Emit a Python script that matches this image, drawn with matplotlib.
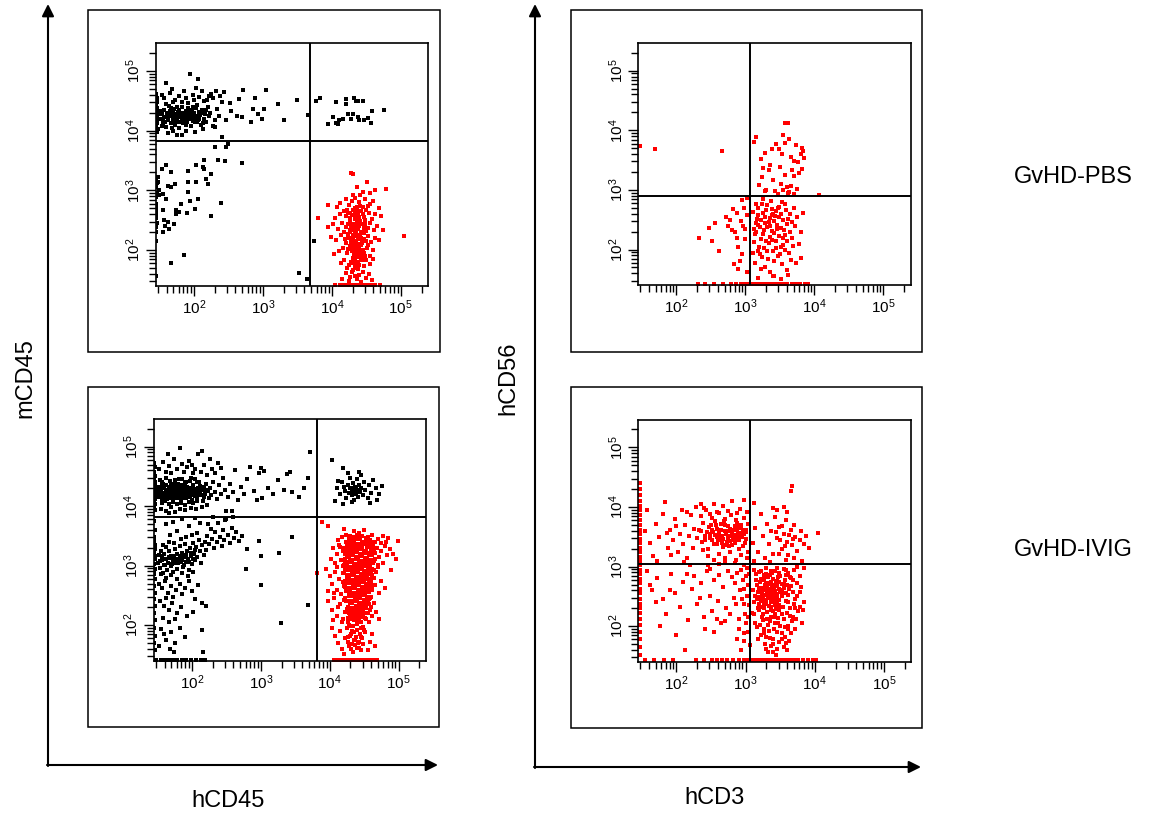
import numpy as np
import matplotlib
matplotlib.use('Agg')
import matplotlib.pyplot as plt
from matplotlib.patches import Rectangle
from matplotlib.ticker import FixedLocator, LogLocator, NullFormatter, LogFormatterMathtext

plt.rcParams['font.family'] = ['Liberation Sans', 'DejaVu Sans']
plt.rcParams['mathtext.fontset'] = 'custom'
plt.rcParams['mathtext.rm'] = 'Liberation Sans'
plt.rcParams['mathtext.it'] = 'Liberation Sans:italic'
plt.rcParams['mathtext.bf'] = 'Liberation Sans:bold'

# events, written as "log10(x) log10(y)" pairs

# GvHD-PBS, hCD45 vs mCD45
pbs45_black_hi = """
1.45 4.05 1.45 4.18 1.46 4.31 1.45 4.44 1.46 4.12 1.45 4.25 1.47 4.38 1.46 4.55 1.45 4.62 1.46 3.98
1.47 4.21 1.45 4.09 1.48 4.28 1.46 4.47 1.47 4.15 1.45 4.34 1.48 4.02 1.46 4.23
1.51 4.19 1.53 4.27 1.55 4.11 1.57 4.35 1.58 4.22 1.60 4.06 1.61 4.30 1.63 4.17 1.64 4.41 1.66 4.24
1.67 4.13 1.69 4.29 1.70 4.20 1.71 4.36 1.73 4.09 1.74 4.25 1.75 4.16 1.77 4.31 1.78 4.22 1.79 4.04
1.80 4.27 1.82 4.18 1.83 4.39 1.84 4.12 1.86 4.26 1.87 4.21 1.88 4.33 1.90 4.15 1.91 4.28 1.92 4.46
1.93 4.19 1.95 4.24 1.96 4.08 1.97 4.35 1.99 4.21 2.00 4.29 2.01 4.14 2.03 4.38 2.04 4.23 2.06 4.18
2.07 4.31 2.09 4.26 2.10 4.10 2.12 4.35 2.14 4.20 2.16 4.28 2.18 4.15 2.20 4.40 2.22 4.24
1.52 4.32 1.54 4.08 1.56 4.23 1.59 4.44 1.62 4.21 1.65 4.33 1.68 4.05 1.70 4.47 1.72 4.23 1.76 4.39
1.78 4.14 1.81 4.30 1.85 4.23 1.89 4.10 1.92 4.37 1.94 4.27 1.98 4.16 2.02 4.25 2.05 4.42 2.08 4.19
2.11 4.29 2.13 4.13 2.17 4.34 1.55 4.19 1.63 4.26 1.71 4.12 1.79 4.35 1.86 4.17 1.94 4.31 2.02 4.20
1.58 4.14 1.67 4.37 1.74 4.27 1.83 4.21 1.90 4.25 1.99 4.40 2.06 4.24 1.61 4.24 1.69 4.18 1.77 4.23
1.85 4.30 1.96 4.19
1.57 4.55 1.60 4.79 1.65 4.63 1.72 4.52 1.78 4.58 1.85 4.66 1.88 4.54 1.94 4.94 1.98 4.60 2.03 4.72
2.06 4.86 2.08 4.57 2.12 4.66 2.19 4.52 2.25 4.61 1.68 4.70 1.82 4.48 2.00 4.51 2.15 4.49 1.53 4.60
2.28 4.55 2.22 4.58
1.62 3.96 1.75 3.93 1.88 3.99 2.01 3.97 2.13 4.02 1.83 3.92 1.70 4.00 2.27 4.07 2.24 4.30 2.30 4.18
2.33 4.36 2.36 4.25
2.32 4.67 2.40 4.47 2.44 4.64 2.47 4.17 2.54 4.33 2.63 4.25 2.66 4.53 2.69 4.23 2.71 4.68 2.83 4.14
2.88 4.54 2.93 4.28 2.98 4.19 3.02 4.36 3.04 4.68 3.22 4.44 3.31 4.17 3.50 4.52 3.66 4.26 2.30 4.06
2.86 4.36 2.52 4.46 2.38 4.58
"""
pbs45_black_core = """
1.60 4.22 1.70 4.18 1.80 4.25 1.90 4.20 2.00 4.24 1.65 4.30 1.75 4.28 1.85 4.17 1.95 4.30 2.05 4.15
1.55 4.15
"""
pbs45_black_dp = """
3.77 4.50 3.83 4.54 3.94 4.11 4.01 4.23 4.06 4.47 4.09 4.11 4.11 4.17 4.16 4.19 4.21 4.53 4.21 4.44
4.23 4.28 4.30 4.28 4.32 4.54 4.35 4.50 4.38 4.22 4.38 4.50 4.40 4.17 4.45 4.50 4.47 4.17 4.52 4.21
4.57 4.12 4.58 4.32 4.75 4.34 4.06 4.12 4.28 4.20
"""
pbs45_black_lo = """
2.49 3.78 2.47 3.72 2.30 3.72 2.41 3.90 2.45 3.49 2.35 3.50 2.15 3.51 2.03 3.43 2.13 3.39 2.69 3.46
1.91 3.33 2.15 3.36 2.25 3.28 2.18 3.19 2.20 3.11 2.03 3.14 1.91 3.14 1.66 3.31 1.60 3.42 1.53 3.35
1.48 3.22 1.48 3.14 1.49 3.00 1.62 3.08 1.73 3.11 1.66 3.06 1.50 2.92 1.55 2.94 1.60 2.86 1.45 2.89
1.45 2.78 1.45 2.67 1.45 2.53 1.45 2.39 1.55 2.67 1.57 2.51 1.62 2.47 1.58 2.40 1.55 2.31 1.64 2.36
1.71 2.44 1.74 2.67 1.74 2.61 1.79 2.64 1.81 2.78 1.90 2.62 1.94 2.83 1.91 2.97 2.06 2.86 2.01 2.69
2.39 2.79 2.25 2.57 1.86 1.92 1.67 1.79 1.45 1.56 3.52 1.61 3.64 1.51 3.74 2.16 1.45 3.05 1.45 3.20
1.46 2.95 1.45 2.60 1.46 2.45 1.45 2.72 1.46 3.12 1.45 2.30 1.45 2.15
"""
pbs45_red = """
4.28 3.29 4.31 3.27 4.51 3.14 4.79 3.03 4.62 3.00 4.45 2.97 4.36 3.05 4.41 2.92 4.56 2.95 4.30 2.93
4.20 2.85 4.33 2.88 4.40 2.81 4.48 2.86 4.55 2.78 4.25 2.76 4.37 2.73 4.60 2.83 4.12 2.79 4.45 2.72
3.94 2.75 4.68 2.71 4.29 2.82 4.52 2.74 4.07 2.72
4.17 2.66 4.24 2.62 4.31 2.68 4.35 2.58 4.42 2.65 4.47 2.55 4.54 2.63 4.58 2.52 4.39 2.51 4.27 2.54
4.20 2.57 4.12 2.61 4.63 2.60 4.71 2.57 4.05 2.53 3.80 2.54 4.33 2.64 4.45 2.60 4.50 2.68 4.36 2.69
4.22 2.68 4.29 2.59
4.15 2.45 4.21 2.38 4.26 2.47 4.30 2.33 4.34 2.42 4.38 2.36 4.41 2.48 4.44 2.31 4.48 2.44 4.52 2.37
4.56 2.46 4.61 2.34 4.66 2.41 4.09 2.36 4.02 2.43 4.18 2.31 4.36 2.45 4.40 2.40 4.32 2.37 4.24 2.43
4.46 2.35 4.28 2.41 4.43 2.44 4.50 2.32 4.35 2.30 4.38 2.48 3.95 2.39 4.74 2.33 5.05 2.23 4.27 2.34
4.13 2.25 4.19 2.18 4.23 2.27 4.28 2.14 4.31 2.22 4.35 2.16 4.37 2.26 4.40 2.11 4.42 2.21 4.46 2.28
4.49 2.15 4.53 2.24 4.57 2.13 4.62 2.20 4.06 2.17 4.25 2.20 4.33 2.29 4.39 2.18 4.44 2.12 4.36 2.23
4.30 2.26 4.41 2.25 4.21 2.12 4.47 2.19 3.99 2.22 4.69 2.17 4.34 2.13 4.38 2.20
4.16 2.04 4.22 1.96 4.27 2.07 4.32 1.93 4.36 2.02 4.39 1.97 4.43 2.08 4.47 1.95 4.51 2.03 4.55 1.91
4.29 1.99 4.34 2.06 4.41 1.92 4.10 1.98 4.60 2.01 4.37 1.95 4.24 2.02 4.45 2.00 4.30 2.09 4.39 2.05
4.03 1.94
4.18 1.84 4.25 1.76 4.30 1.87 4.34 1.72 4.38 1.81 4.42 1.88 4.46 1.74 4.50 1.83 4.55 1.77 4.28 1.80
4.36 1.89 4.40 1.75 4.22 1.71 4.59 1.86 4.13 1.79 4.44 1.84 4.33 1.78 4.48 1.90
4.20 1.62 4.27 1.55 4.31 1.66 4.36 1.51 4.40 1.59 4.45 1.64 4.49 1.53 4.54 1.60 4.25 1.48 4.38 1.69
4.58 1.50 4.33 1.57 4.15 1.52 4.43 1.47 4.29 1.63
4.33 2.52 4.40 2.56 4.37 2.38 4.43 2.30 4.31 2.15 4.45 2.17 4.39 2.02 4.35 1.98 4.42 1.85 4.30 1.78
4.27 2.30 4.48 2.50 4.34 2.70 4.41 2.74 4.32 2.44 4.46 2.42 4.37 2.10 4.29 2.06 4.52 2.08 4.24 2.21
4.36 1.70 4.33 1.86 4.44 1.96 4.26 2.62 4.38 2.62
4.05 1.41 4.12 1.41 4.18 1.41 4.22 1.41 4.27 1.41 4.31 1.41 4.35 1.41 4.39 1.41 4.43 1.41 4.47 1.41
4.52 1.41 4.57 1.41 4.62 1.41 4.70 1.41
"""

# GvHD-IVIG, hCD45 vs mCD45
ivig45_black_hi = """
1.45 4.10 1.45 4.22 1.46 4.35 1.45 4.48 1.46 4.16 1.45 4.29 1.47 4.41 1.46 4.04 1.45 4.58 1.46 4.25
1.47 4.12 1.45 4.37 1.46 4.66 1.47 4.31 1.45 3.98 1.46 4.19 1.48 4.27 1.47 4.50 1.45 4.73 1.46 3.93
1.50 4.21 1.52 4.33 1.53 4.15 1.55 4.27 1.56 4.40 1.57 4.09 1.58 4.22 1.60 4.30 1.61 4.17 1.62 4.36
1.63 4.25 1.64 4.12 1.66 4.31 1.67 4.20 1.68 4.43 1.69 4.26 1.70 4.14 1.71 4.34 1.72 4.23 1.73 4.08
1.74 4.29 1.75 4.19 1.76 4.38 1.77 4.27 1.78 4.13 1.79 4.32 1.80 4.22 1.81 4.45 1.82 4.18 1.83 4.28
1.84 4.10 1.85 4.35 1.86 4.24 1.87 4.16 1.88 4.30 1.89 4.21 1.90 4.39 1.91 4.27 1.92 4.13 1.93 4.33
1.94 4.23 1.95 4.18 1.96 4.29 1.97 4.42 1.98 4.20 1.99 4.31 2.00 4.11 2.01 4.26 2.02 4.36 2.03 4.19
2.04 4.28 2.06 4.22 2.07 4.40 2.08 4.15 2.09 4.30 2.11 4.24 2.12 4.34 2.13 4.18 2.15 4.27 2.16 4.09
2.18 4.32 2.19 4.21 2.21 4.37 2.23 4.26 2.25 4.14
1.51 4.28 1.54 4.20 1.57 4.34 1.59 4.14 1.62 4.27 1.65 4.22 1.67 4.33 1.70 4.19 1.72 4.30 1.74 4.16
1.77 4.21 1.79 4.26 1.81 4.15 1.83 4.36 1.85 4.20 1.87 4.27 1.89 4.14 1.91 4.33 1.93 4.21 1.95 4.26
1.97 4.16 1.99 4.24 2.01 4.32 2.04 4.17 2.06 4.29 2.09 4.20 2.12 4.25 2.14 4.31 2.17 4.16 2.20 4.27
1.53 4.44 1.58 4.38 1.63 4.47 1.69 4.36 1.75 4.44 1.80 4.38 1.86 4.46 1.92 4.41 1.98 4.48 2.05 4.45
2.10 4.41 1.56 4.05 1.61 4.08 1.66 4.03 1.72 4.07 1.78 4.04 1.84 4.06 1.90 4.02 1.96 4.07 2.02 4.05
2.08 4.08 1.60 4.21 1.68 4.27 1.76 4.24 1.84 4.25 1.88 4.22 1.94 4.29 2.00 4.23 1.73 4.20 1.82 4.31
1.64 4.18
1.52 4.62 1.58 4.75 1.63 4.57 1.67 4.68 1.70 4.55 1.74 4.80 1.79 4.62 1.83 4.98 1.85 4.71 1.88 4.58
1.93 4.66 1.96 4.76 2.01 4.55 2.04 4.63 2.09 4.87 2.13 4.58 2.17 4.70 2.22 4.52 2.26 4.80 2.29 4.62
2.33 4.55 2.38 4.72 2.42 4.64 1.65 4.88 2.14 4.93 2.00 4.70
1.55 3.95 1.62 3.92 1.70 3.98 1.76 3.91 1.82 3.96 1.90 3.93 1.98 3.97 2.06 3.95 2.14 3.99 2.22 4.02
1.67 3.88 2.50 3.92 2.58 3.92
2.26 4.30 2.28 4.18 2.31 4.41 2.34 4.24 2.36 4.12 2.39 4.35 2.42 4.20 2.45 4.48 2.48 4.28 2.52 4.15
2.55 4.38 2.59 4.24 2.63 4.60 2.67 4.10 2.71 4.33 2.76 4.21 2.80 4.45
2.85 4.66 2.90 4.25 2.98 4.55 3.02 4.14 3.05 4.59 3.10 4.30 3.17 4.20 3.25 4.44 3.33 4.28 3.38 4.54
3.45 4.24 3.55 4.15 3.63 4.30 3.68 4.48 3.72 4.91 2.95 4.10 3.00 4.65 3.42 4.58
"""
ivig45_black_core = """
1.55 4.25 1.62 4.20 1.68 4.30 1.75 4.22 1.82 4.27 1.88 4.19 1.95 4.25 2.02 4.20 1.58 4.32 1.72 4.15
1.85 4.34 1.99 4.30 1.65 4.14 1.79 4.18 1.92 4.15 2.08 4.26 1.52 4.16 1.70 4.38 1.90 4.40
"""
ivig45_black_dp = """
4.04 4.78 4.19 4.65 4.10 4.31 4.15 4.20 4.18 4.40 4.22 4.26 4.24 4.13 4.26 4.35 4.28 4.22 4.30 4.48
4.31 4.30 4.33 4.18 4.34 4.39 4.35 4.25 4.36 4.10 4.37 4.33 4.38 4.21 4.39 4.45 4.40 4.28 4.41 4.16
4.42 4.36 4.44 4.24 4.45 4.52 4.46 4.31 4.48 4.19 4.50 4.40 4.52 4.27 4.55 4.13 4.57 4.35 4.60 4.22
4.63 4.44 4.67 4.30 4.72 4.20 4.76 4.34 4.08 4.09 4.12 4.42 4.20 4.04 4.27 4.56 4.32 4.07 4.43 4.58
4.58 4.05 4.69 4.10 4.21 4.33 4.29 4.30 4.36 4.29 4.43 4.26 4.38 4.30 4.32 4.26
"""
ivig45_black_lo = """
1.45 3.75 1.46 3.60 1.45 3.48 1.46 3.35 1.45 3.22 1.47 3.12 1.45 3.03 1.46 2.95 1.45 2.86 1.46 2.78
1.45 2.66 1.47 2.55 1.45 2.44 1.46 2.32 1.45 2.20 1.46 2.08 1.45 1.95 1.46 1.82 1.45 1.70 1.46 1.58
1.45 3.41 1.46 3.17 1.45 2.90 1.47 3.28
1.50 3.05 1.52 3.18 1.54 2.96 1.55 3.25 1.57 3.10 1.58 2.88 1.60 3.20 1.61 3.02 1.63 3.31 1.64 2.93
1.66 3.14 1.67 3.24 1.69 3.00 1.70 3.17 1.72 2.90 1.73 3.09 1.75 3.28 1.76 3.04 1.78 3.19 1.79 2.95
1.81 3.12 1.82 3.33 1.84 3.07 1.85 3.22 1.87 2.98 1.88 3.15 1.90 3.36 1.91 3.06 1.93 3.25 1.94 3.11
1.96 2.93 1.97 3.29 1.99 3.16 2.00 3.03 2.02 3.38 2.03 3.20 2.05 3.09 2.06 3.31 2.08 3.14 2.10 3.44
2.11 3.24 2.13 3.05 2.15 3.34 2.17 3.18 2.19 3.40 2.20 3.27
1.53 3.08 1.56 3.16 1.59 3.01 1.62 3.12 1.65 3.05 1.68 3.13 1.71 3.03 1.74 3.17 1.77 3.11 1.80 3.04
1.83 3.16 1.86 3.10 1.89 3.02 1.92 3.18 1.95 3.07 1.98 3.22 2.01 3.12 2.04 3.26 1.55 2.86 1.62 2.80
1.70 2.84 1.78 2.78 1.86 2.88 1.94 2.82 2.02 2.90 1.58 3.35 1.66 3.40 1.74 3.38 1.84 3.45 1.92 3.48
2.00 3.52 2.08 3.55 1.68 3.52 1.78 3.58
2.22 3.50 2.25 3.36 2.27 3.62 2.29 3.45 2.32 3.30 2.34 3.56 2.36 3.40 2.38 3.71 2.41 3.49 2.43 3.33
2.45 3.60 2.47 3.44 2.50 3.78 2.52 3.52 2.55 3.38 2.58 3.64 2.61 3.47 2.64 3.57 2.68 3.41 2.72 3.50
2.60 3.82 2.48 3.76 2.23 3.70 2.31 3.82 1.96 3.66 2.12 3.72 1.85 3.78 2.05 3.80 1.62 3.70 1.72 3.74
1.52 2.70 1.57 2.62 1.61 2.74 1.65 2.55 1.69 2.66 1.73 2.48 1.77 2.60 1.82 2.70 1.86 2.52 1.90 2.63
1.95 2.75 2.00 2.58 2.05 2.44 2.09 2.67 2.14 2.38 2.20 2.33 1.54 2.40 1.60 2.32 1.66 2.25 1.71 2.38
1.78 2.20 1.84 2.30 1.93 2.15 1.58 2.12 1.67 2.05 1.75 2.10 2.02 2.22 1.63 2.46
1.55 1.93 1.60 1.85 1.62 1.75 1.70 1.88 1.76 1.70 1.82 1.95 1.68 1.60 1.74 1.55 1.90 1.80 2.15 1.92
2.16 1.55 1.52 1.65
1.48 1.41 1.55 1.41 1.61 1.41 1.66 1.41 1.72 1.41 1.79 1.41 1.85 1.41 1.92 1.41 1.98 1.41 2.06 1.41
2.13 1.41 2.19 1.41
2.78 2.94 3.00 3.17 2.97 3.42 3.26 3.21 3.45 3.49 3.00 2.67 3.29 2.04 3.69 2.34 2.80 3.28
"""
ivig45_red = """
3.89 3.73 3.98 3.66 4.21 3.62 4.35 3.58 4.30 3.50 4.42 3.55 4.55 3.48 4.62 3.52 4.70 3.45 4.78 3.50
4.85 3.47 4.99 3.42 4.18 3.48 4.12 3.44 4.50 3.60 4.66 3.40 4.75 3.38 4.24 3.52
4.05 3.30 4.10 3.20 4.14 3.35 4.17 3.10 4.19 3.25 4.21 3.02 4.63 3.35 4.66 3.22 4.69 3.30 4.72 3.15
4.75 3.25 4.80 3.33 4.84 3.18 4.88 3.28 4.97 3.12 4.65 3.08 4.70 3.02 4.78 3.05 4.92 3.20 4.02 3.12
4.08 3.05 4.15 3.32 4.61 3.40 4.82 3.40
3.95 2.95 4.00 2.82 4.04 2.70 4.08 2.90 4.11 2.60 4.14 2.78 4.17 2.52 4.19 2.88 4.21 2.66 4.62 2.95
4.64 2.80 4.66 2.68 4.68 2.90 4.71 2.55 4.74 2.75 4.80 2.62 4.89 2.93 3.82 2.87 3.98 2.58 4.10 2.98
4.62 2.60 4.70 2.98 4.06 2.55
3.97 2.40 4.03 2.25 4.07 2.45 4.11 2.15 4.15 2.35 4.18 2.05 4.21 2.42 4.23 2.22 4.58 2.45 4.60 2.30
4.62 2.15 4.65 2.38 4.68 2.22 4.72 2.10 4.05 2.08 4.12 2.30 4.55 2.20 4.57 2.05 4.20 2.10 4.27 2.05
4.33 2.10 4.39 2.08 4.45 2.05 4.52 2.12
4.04 1.95 4.08 1.82 4.12 1.70 4.15 1.90 4.18 1.60 4.22 1.78 4.25 1.95 4.28 1.65 4.31 1.85 4.34 1.55
4.37 1.75 4.40 1.92 4.43 1.62 4.46 1.80 4.49 1.68 4.52 1.88 4.55 1.58 4.58 1.72 4.62 1.85 4.66 1.65
4.30 1.98 4.36 1.88 4.42 1.72 4.26 1.80 4.48 1.97 4.33 1.68 4.39 1.62 4.21 1.52
4.22 2.95 4.24 2.58 4.23 3.20 4.22 2.75 4.59 2.92 4.60 2.70 4.61 3.18 4.26 2.30 4.57 2.35 4.28 2.20
4.55 2.62 4.24 2.40
4.20 3.30 4.22 3.12 4.21 2.88 4.23 2.64 4.22 2.46 4.25 2.28 4.27 2.12 4.64 3.26 4.63 3.05 4.62 2.84
4.61 2.64 4.60 2.48 4.59 2.25 4.55 2.38 4.50 2.20 4.53 2.10 4.36 2.08 4.42 2.12 4.30 2.15 4.48 2.25
4.66 3.12 4.19 3.00 4.20 2.72 4.64 2.92 4.35 3.48 4.47 3.50 4.53 3.46 4.39 3.52 4.24 3.40 4.60 3.38
4.28 2.00 4.34 1.98 4.46 1.95 4.40 2.02 4.32 1.90 4.44 1.86 4.38 1.80 4.29 1.82 4.50 1.92 4.35 1.75
4.41 1.70 4.47 1.78 4.26 1.72 4.31 1.60 4.37 1.66 4.45 1.58
4.06 1.41 4.12 1.41 4.17 1.41 4.21 1.41 4.26 1.41 4.30 1.41 4.34 1.41 4.38 1.41 4.42 1.41 4.46 1.41
4.50 1.41 4.55 1.41 4.60 1.41 4.65 1.41 4.69 1.41
"""
ivig45_red_core = """
4.27 3.36 4.34 3.40 4.41 3.35 4.48 3.39 4.55 3.33 4.61 3.28 4.25 3.27 4.32 3.30 4.38 3.24 4.45 3.29
4.51 3.23 4.58 3.19 4.26 3.16 4.33 3.19 4.40 3.13 4.46 3.18 4.53 3.12 4.59 3.08 4.24 3.05 4.31 3.08
4.37 3.02 4.44 3.07 4.50 3.01 4.57 2.98 4.25 2.94 4.32 2.97 4.39 2.91 4.45 2.96 4.52 2.90 4.58 2.87
4.26 2.83 4.34 2.86 4.40 2.80 4.47 2.85 4.53 2.79 4.59 2.76 4.27 2.72 4.35 2.75 4.41 2.69 4.48 2.74
4.54 2.68 4.28 2.61 4.36 2.64 4.42 2.58 4.49 2.63 4.55 2.57 4.30 2.50 4.37 2.53 4.43 2.47 4.50 2.52
4.56 2.46 4.31 2.39 4.38 2.42 4.44 2.36 4.51 2.41 4.33 2.28 4.39 2.31 4.45 2.26 4.51 2.30 4.35 2.18
4.41 2.21 4.47 2.16 4.29 3.44 4.43 3.46 4.57 3.42
"""

# GvHD-PBS, hCD3 vs hCD56
pbs3_red = """
3.12 3.80 3.15 3.88 3.22 3.52 3.26 3.36 3.20 3.08 3.24 3.22 3.30 3.00 3.36 3.42 3.34 3.33 3.40 3.17
3.45 3.77 3.48 3.68 3.50 3.39 3.53 3.61 3.55 3.92 3.57 4.12 3.60 3.05 3.62 4.12 3.58 3.78 3.63 3.85
3.66 3.56 3.68 3.33 3.70 3.48 3.71 3.24 3.73 3.76 3.76 3.47 3.78 3.29 3.80 3.60 3.83 3.66 3.85 3.54
3.82 3.35 3.63 2.97 3.58 3.25 3.52 3.10 3.43 2.98 3.38 3.69 3.29 3.62 3.66 3.06 3.75 3.02 3.55 3.00
3.70 2.93 3.62 2.95 3.47 2.94 3.28 2.98 3.82 3.70
1.48 3.73 1.69 3.68 2.66 3.65 4.07 2.91
2.33 2.20 2.47 2.36 2.56 2.44 2.52 2.15 2.72 2.55 2.78 2.50 2.82 2.68 2.85 2.29 2.88 2.20 2.90 2.05
2.92 1.80 2.95 1.93 2.97 2.40 2.98 2.70 3.00 2.18 3.02 2.58 3.03 1.62 2.62 1.98 2.83 1.75 2.88 2.62
2.95 2.83 3.02 2.86 2.93 2.48 2.80 2.32 2.90 1.68 3.00 2.35 2.75 2.40
3.11 2.63 3.18 2.41 3.24 2.77 3.13 2.12 3.29 2.55 3.35 2.21 3.21 1.93 3.42 2.48 3.16 2.30 3.38 2.68
3.27 2.02 3.46 2.35 3.33 1.84 3.52 2.59 3.19 2.70 3.44 2.15 3.31 2.38 3.57 2.24 3.23 2.49 3.40 1.97
3.49 2.72 3.14 1.78 3.36 2.53 3.61 2.43 3.26 2.26 3.54 2.08 3.30 2.66 3.47 1.89 3.65 2.60 3.20 2.05
3.39 2.31 3.58 2.77 3.28 1.70 3.43 2.57 3.68 2.19 3.17 2.52 3.51 2.36 3.34 2.11 3.63 1.94 3.25 2.85
3.55 2.50 3.72 2.39 3.32 1.98 3.48 2.22 3.15 2.44 3.60 2.14 3.37 2.82 3.75 2.55 3.22 2.18 3.45 2.64
3.66 1.82 3.12 2.35 3.41 2.28 3.53 1.75 3.29 2.45 3.70 2.70 3.35 1.62 3.56 2.33 3.19 2.58 3.80 2.30
3.44 2.02 3.62 2.51 3.26 2.62 3.50 1.92 3.38 2.16 3.77 2.09 3.24 1.88 3.59 2.66 3.46 2.42 3.14 2.26
3.67 2.46 3.31 2.75 3.83 2.61 3.53 2.80 3.40 2.60 3.21 2.37 3.64 2.29 3.34 2.47 3.57 1.99 3.27 2.33
3.73 1.78 3.49 2.55 3.18 1.98 3.42 1.80 3.36 2.40 3.60 1.66 3.30 2.15 3.69 2.06 3.47 2.69 3.23 1.68
3.55 2.19 3.81 1.85 3.11 1.95 3.39 2.58 3.16 2.77 3.51 2.05
3.40 1.56 3.42 1.55 3.62 1.58 3.18 1.52 3.52 1.50
2.32 1.42 2.42 1.42 2.55 1.42 2.68 1.42 2.79 1.42 2.87 1.42 2.93 1.42 2.99 1.42 3.05 1.42 3.10 1.42
3.16 1.42 3.21 1.42 3.27 1.42 3.33 1.42 3.38 1.42 3.44 1.42 3.50 1.42 3.56 1.42 3.61 1.42 3.67 1.42
3.73 1.42 3.79 1.42 3.86 1.42 3.91 1.42
"""

# GvHD-IVIG, hCD3 vs hCD56
ivig3_red = """
1.47 4.40 1.47 4.30 1.47 4.20 1.47 4.10 1.47 4.02 1.47 3.95 1.47 3.86 1.47 3.78 1.47 3.70 1.47 3.62
1.47 3.55 1.47 3.47 1.47 3.40 1.47 3.32 1.47 3.25 1.47 3.17 1.47 3.10 1.47 3.02 1.47 2.95 1.47 2.88
1.47 2.80 1.47 2.72 1.47 2.63 1.47 2.55 1.47 2.46 1.47 2.38 1.47 2.30 1.47 2.22 1.47 2.12 1.47 2.02
1.47 1.90 1.47 1.78 1.47 1.65 1.47 1.52
1.55 3.60 1.58 3.95 1.62 3.40 1.66 3.18 1.70 3.72 1.75 3.50 1.83 4.09 1.80 3.88 1.88 3.31 1.91 3.62
1.95 3.45 1.98 3.80 2.02 3.25 2.05 3.55 2.08 3.95 2.10 3.38 2.13 3.70 2.16 3.15 2.18 3.51 2.21 3.86
2.24 3.32 2.26 3.64 2.28 4.00 1.72 3.10 1.86 3.56 2.00 3.68 2.15 3.92 2.30 3.48 1.92 3.20 2.11 3.08
2.32 3.62 2.35 3.85 2.37 3.41 2.39 3.73 2.41 3.52 2.43 3.95 2.45 3.30 2.47 3.66 2.49 3.48 2.51 3.81
2.53 3.58 2.55 3.38 2.57 3.70 2.59 3.50 2.61 3.90 2.63 3.44 2.65 3.62 2.67 3.33 2.69 3.77 2.71 3.55
2.73 3.42 2.75 3.68 2.77 3.51 2.79 3.86 2.81 3.36 2.83 3.61 2.85 3.47 2.87 3.74 2.89 3.56 2.91 3.29
2.93 3.65 2.95 3.49 2.97 3.82 2.99 3.40 3.01 3.58 3.03 3.71 3.04 3.25
2.52 3.44 2.70 3.60 2.86 3.53 2.62 3.58 2.78 3.43 2.94 3.57 2.58 3.63 2.74 3.48 2.90 3.66 2.66 3.52
2.82 3.45 2.98 3.55 2.56 3.53 2.72 3.36 2.88 3.63 2.64 3.71 2.80 3.56 2.96 3.62 2.60 3.45 2.76 3.59
2.92 3.50 2.68 3.46 2.84 3.68 3.00 3.46 2.50 3.70 2.44 3.58 2.38 3.28 2.46 3.18 2.54 3.12 2.62 3.22
2.70 3.15 2.78 3.25 2.86 3.11 2.94 3.20 3.02 3.14 2.40 3.98 2.55 4.05 2.68 4.02 2.80 4.10 2.92 3.97
3.02 3.92 2.58 3.92 2.74 3.94 2.87 3.90 2.48 3.88 2.97 4.12 2.35 4.05
2.60 3.52 2.66 3.40 2.72 3.58 2.78 3.64 2.84 3.40 2.90 3.44 2.96 3.35 2.52 3.62 2.58 3.38 2.64 3.49
2.70 3.70 2.76 3.34 2.82 3.52 2.88 3.48 2.94 3.70 3.00 3.62 2.86 3.78 2.70 3.80 2.56 3.76 2.48 3.55
2.42 3.44 2.36 3.60
2.20 3.02 2.45 3.03 2.62 3.04 2.85 3.06 2.98 3.02 2.70 3.08
3.10 3.40 3.14 3.65 3.18 3.25 3.22 3.88 3.25 3.52 3.28 3.15 3.31 3.72 3.34 3.38 3.37 3.60 3.40 3.22
3.43 3.84 3.46 3.48 3.49 3.66 3.52 3.30 3.55 3.55 3.58 3.78 3.60 3.42 3.62 3.20 3.65 3.62 3.67 3.36
3.70 3.70 3.72 3.50 3.75 3.26 3.78 3.45 3.80 3.60 3.84 3.38 3.88 3.52 3.91 3.32 3.12 3.10 3.35 3.08
3.58 3.12 3.82 3.10 3.46 3.95 3.55 4.00 3.60 3.92 3.40 3.98 3.67 4.35 3.66 4.27 4.05 3.57 3.12 4.06
3.70 3.15 3.50 3.45 3.63 3.53 3.57 3.35 3.44 3.58 3.68 3.46 3.53 3.68 3.48 3.22
3.18 2.58 3.33 2.71 3.26 2.44 3.41 2.63 3.22 2.80 3.37 2.52 3.29 2.67 3.45 2.39 3.20 2.49 3.35 2.86
3.31 2.56 3.48 2.74 3.24 2.65 3.39 2.45 3.27 2.77 3.43 2.59 3.16 2.70 3.52 2.50 3.30 2.41 3.36 2.62
3.23 2.55 3.46 2.68 3.34 2.34 3.40 2.79 3.28 2.60 3.50 2.57 3.19 2.37 3.44 2.47 3.32 2.83 3.38 2.69
3.25 2.51 3.55 2.64 3.21 2.74 3.42 2.36 3.35 2.55 3.47 2.82 3.30 2.73 3.58 2.43 3.26 2.31 3.39 2.58
3.17 2.46 3.53 2.71 3.33 2.48 3.45 2.54 3.29 2.88 3.37 2.40 3.24 2.61 3.49 2.33 3.40 2.66 3.31 2.53
3.57 2.77 3.22 2.42 3.36 2.75 3.43 2.51 3.28 2.69 3.51 2.61 3.34 2.58 3.46 2.45 3.38 2.63 3.27 2.39
3.20 2.65 3.26 2.86 3.32 2.62 3.38 2.90 3.44 2.72 3.50 2.84 3.56 2.56 3.60 2.70 3.64 2.83 3.14 2.50
3.18 2.30 3.25 2.20 3.31 2.12 3.37 2.27 3.43 2.15 3.49 2.44 3.54 2.33 3.59 2.55 3.68 2.58 3.72 2.30
3.15 2.78 3.10 2.60 3.12 2.40 3.09 2.22 3.13 2.05 3.21 2.02 3.27 1.88 3.35 1.80 3.41 1.95 3.47 2.05
3.52 1.78 3.57 1.98 3.63 1.75 3.39 1.70 3.29 1.62 3.44 1.52 3.33 1.56 3.22 2.92 3.46 2.98 3.58 2.95
3.12 2.95 3.20 2.91 3.30 2.98 3.42 2.92 3.55 2.96 3.62 2.89 3.70 2.94 3.78 2.85 3.84 2.97 3.48 2.90
3.66 2.81 3.74 2.99 3.58 2.86 3.15 2.88 3.36 2.93
3.61 2.52 3.64 2.30 3.66 2.68 3.69 2.15 3.71 2.45 3.74 2.72 3.76 2.25 3.79 2.58 3.82 2.05 3.85 2.40
3.62 2.00 3.68 2.78 3.72 1.95 3.63 2.62 3.78 2.33 3.60 2.22 3.65 1.88 3.70 2.38 3.80 2.66 3.67 2.08
3.75 2.50 3.62 2.41 3.73 2.12 3.83 2.28
3.12 2.20 3.16 1.98 3.19 2.28 3.22 1.85 3.25 2.10 3.28 1.70 3.31 2.24 3.34 1.92 3.37 2.15 3.40 1.78
3.43 2.05 3.46 1.62 3.49 2.27 3.52 1.88 3.55 2.12 3.58 1.72 3.61 1.95 3.64 2.18 3.33 2.02 3.45 1.90
3.27 1.95 3.50 2.00 3.39 2.25 3.57 1.82 3.30 1.82 3.42 2.20 3.53 2.21 3.24 2.16 3.36 1.67 3.48 1.74
3.60 1.60 3.18 1.78 3.40 1.56 3.55 1.65 3.47 2.14 3.35 2.08 3.26 2.30 3.44 2.29
2.93 2.95 2.96 2.78 2.98 2.62 3.00 2.85 3.02 2.50 3.04 2.70 3.05 2.35 2.95 2.45 2.99 2.20 3.01 2.05
3.03 1.90 2.97 1.75 2.92 2.60 2.88 2.90 2.85 2.72 2.83 2.48 2.80 2.82 2.78 2.20 2.90 1.95 3.05 2.88
3.02 2.97 2.94 1.60 2.98 2.38 3.04 2.15 2.86 2.38 2.91 2.12 3.06 1.68 2.97 1.88 2.88 1.78
1.58 2.93 1.65 2.60 1.72 2.81 1.80 2.45 1.85 2.20 1.92 2.88 1.98 2.55 2.05 2.32 2.10 2.75 2.17 2.10
2.22 2.62 2.26 2.85 2.30 2.38 2.36 2.72 2.40 2.15 2.44 2.92 2.48 2.50 2.52 2.25 2.55 2.78 2.60 2.42
2.64 2.05 2.68 2.66 2.72 2.30 2.75 2.92 1.76 2.00 1.62 2.70 2.00 1.85 2.42 1.95 2.58 2.12 2.70 2.08
1.70 2.40 2.34 2.48 2.55 1.90 2.15 2.88 1.90 2.60 2.48 2.96 2.62 2.86 2.12 1.60
1.55 1.43 1.68 1.43 1.82 1.43 1.95 1.43 2.28 1.43 2.40 1.43 2.51 1.43 2.58 1.43 2.66 1.43 2.73 1.43
2.82 1.43 2.90 1.43 2.97 1.43 3.03 1.43 3.08 1.43 3.12 1.43 3.17 1.43 3.21 1.43 3.26 1.43 3.30 1.43
3.35 1.43 3.40 1.43 3.45 1.43 3.50 1.43 3.55 1.43 3.60 1.43 3.65 1.43 3.70 1.43 3.76 1.43 3.83 1.43
3.90 1.43 3.97 1.43 4.02 1.43
"""
ivig3_red_core = """
3.22 2.45 3.28 2.52 3.34 2.47 3.40 2.55 3.46 2.50 3.25 2.62 3.31 2.66 3.37 2.60 3.43 2.68 3.49 2.63
3.21 2.74 3.27 2.79 3.33 2.73 3.39 2.80 3.45 2.76 3.30 2.38 3.36 2.33 3.42 2.40 3.48 2.36 3.24 2.33
3.35 2.86 3.29 2.88 3.52 2.58 3.19 2.57 3.55 2.71 3.33 2.57 3.41 2.47
"""

# quadrant gates (log10) per panel: TL, BL, TR, BR
gate_x = [3.68, 3.81, 3.07, 3.06]
gate_y = [3.83, 3.82, 2.89, 3.05]
x_range = [1.445, 5.395]
y_range = [1.40, 5.46]

row_labels = ['GvHD-PBS', 'GvHD-IVIG']


def decades(s):
    a = np.array(s.split(), dtype=float).reshape(-1, 2)
    return 10 ** a[:, 0], 10 ** a[:, 1]


W, H = 1149, 814
fig = plt.figure(figsize=(W / 100, H / 100), dpi=100)

# overlay in pixel units for frames, arrows and labels
over = fig.add_axes([0, 0, 1, 1])
over.set_xlim(0, W)
over.set_ylim(H, 0)
over.axis('off')

for (x0, y0, x1, y1) in [(88, 10, 440, 352), (88, 387, 439, 727),
                         (571, 10, 922, 352), (571, 387, 922, 728)]:
    over.add_patch(Rectangle((x0, y0), x1 - x0, y1 - y0, fill=False, lw=1.1, ec='black'))

arrow = dict(arrowstyle='-|>', lw=1.5, color='black', mutation_scale=18, shrinkA=0, shrinkB=0)
over.annotate('', xy=(48, 4), xytext=(48, 766), arrowprops=arrow)
over.annotate('', xy=(438, 765), xytext=(47, 765), arrowprops=arrow)
over.annotate('', xy=(535, 4), xytext=(535, 768), arrowprops=arrow)
over.annotate('', xy=(921, 767), xytext=(534, 767), arrowprops=arrow)

lab = dict(fontsize=17, ha='center', va='center')
over.text(25, 378, 'mCD45', rotation=90, **lab)
over.text(508, 378, 'hCD56', rotation=90, **lab)
over.text(228, 801, 'hCD45', **lab)
over.text(715, 798, 'hCD3', **lab)
over.text(1073, 177, row_labels[0], **lab)
over.text(1073, 550, row_labels[1], **lab)

dot = 5
panels = [
    ([0.1355, 0.6486, 0.2370, 0.2982],
     [(pbs45_black_hi, 'black', dot), (pbs45_black_core, 'black', 9),
      (pbs45_black_dp, 'black', dot), (pbs45_black_lo, 'black', dot),
      (pbs45_red, 'red', dot)]),
    ([0.1338, 0.1880, 0.2367, 0.2969],
     [(ivig45_black_hi, 'black', dot), (ivig45_black_core, 'black', 10),
      (ivig45_black_dp, 'black', dot), (ivig45_black_lo, 'black', dot),
      (ivig45_red_core, 'red', 18), (ivig45_red, 'red', dot)]),
    ([0.5553, 0.6495, 0.2373, 0.2973],
     [(pbs3_red, 'red', dot)]),
    ([0.5553, 0.1867, 0.2378, 0.2973],
     [(ivig3_red_core, 'red', 10), (ivig3_red, 'red', dot)]),
]

for i, (rect, pops) in enumerate(panels):
    ax = fig.add_axes(rect)
    for s, color, size in pops:
        x, y = decades(s)
        ax.scatter(x, y, s=size, c=color, marker='s', linewidths=0)
    ax.set_xscale('log')
    ax.set_yscale('log')
    ax.set_xlim(10 ** x_range[0], 10 ** x_range[1])
    ax.set_ylim(10 ** y_range[0], 10 ** y_range[1])
    ax.axvline(10 ** gate_x[i], color='black', lw=1.4, zorder=3)
    ax.axhline(10 ** gate_y[i], color='black', lw=1.4, zorder=3)
    for axis in (ax.xaxis, ax.yaxis):
        axis.set_major_locator(FixedLocator([1e2, 1e3, 1e4, 1e5]))
        axis.set_major_formatter(LogFormatterMathtext())
        axis.set_minor_locator(LogLocator(base=10, subs=np.arange(2, 10), numticks=20))
        axis.set_minor_formatter(NullFormatter())
    ax.tick_params(which='major', direction='out', length=7, width=1, labelsize=11, pad=2)
    ax.tick_params(which='minor', direction='out', length=5, width=1)
    ax.tick_params(axis='y', labelrotation=90)
    plt.setp(ax.get_yticklabels(), va='center')
    for sp in ax.spines.values():
        sp.set_linewidth(1.2)

fig.savefig('out.png', dpi=100)
